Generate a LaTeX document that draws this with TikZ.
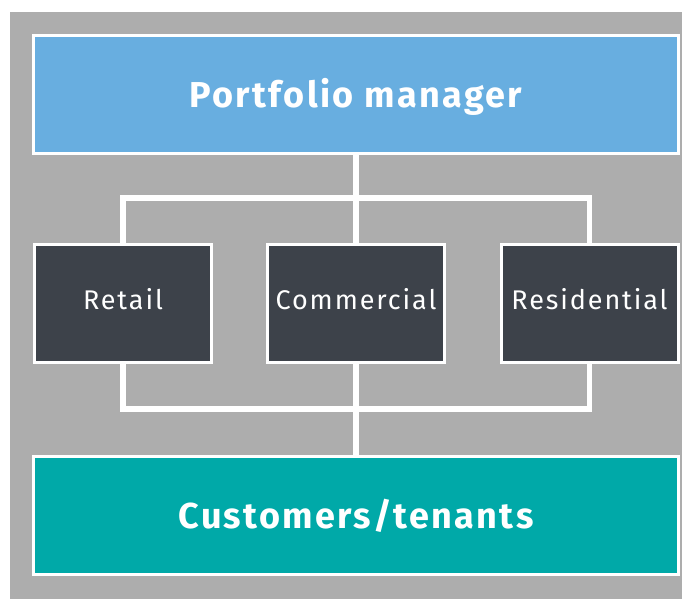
\documentclass[tikz,border=0pt]{standalone}
\usepackage{fontspec}
\setmainfont{Fira Sans}
\newfontfamily\bigfont[LetterSpace=6.5]{Fira Sans}
\newfontfamily\unitfont[LetterSpace=7]{Fira Sans}
\usetikzlibrary{backgrounds}
\definecolor{bgray}{HTML}{ADADAD}
\definecolor{pblue}{HTML}{68AEE0}
\definecolor{dslate}{HTML}{3D424A}
\definecolor{tteal}{HTML}{00A9A8}
\begin{document}
\begin{tikzpicture}[x=1pt,y=-1pt,
  box/.style={draw=white,line width=3pt,inner sep=0pt,text=white,text depth=0pt},
  big/.style={box,minimum width=645pt,minimum height=118pt,font=\bigfont\fontsize{36}{40}\selectfont\bfseries},
  unit/.style={box,fill=dslate,minimum width=177pt,minimum height=118pt,text height=11.6pt,font=\unitfont\fontsize{27}{30}\selectfont},
  conn/.style={draw=white,line width=5.5pt,line join=miter}]
\useasboundingbox (0,0) rectangle (692,599);
\node[big,fill=pblue,text height=25.6pt] (pm) at (356,94.5) {Portfolio manager};
\node[big,fill=tteal,text height=25.1pt] (ct) at (356,515.75) {Customers/tenants};
\node[unit] (re) at (123,303.5) {Retail};
\node[unit] (co) at (356,303.5) {Commercial};
\node[unit] (rs) at (589.5,303.5) {Residential};
\coordinate (tl) at (123,198);
\coordinate (tr) at (589.5,198);
\coordinate (bl) at (123,409);
\coordinate (br) at (589.5,409);
\begin{scope}[on background layer]
\fill[bgray] (10,12) rectangle (682,599);
\draw[conn] (pm.south) -- (ct.north);
\draw[conn] (re.north) -- (tl) -- (tr) -- (rs.north);
\draw[conn] (re.south) -- (bl) -- (br) -- (rs.south);
\end{scope}
\end{tikzpicture}
\end{document}
